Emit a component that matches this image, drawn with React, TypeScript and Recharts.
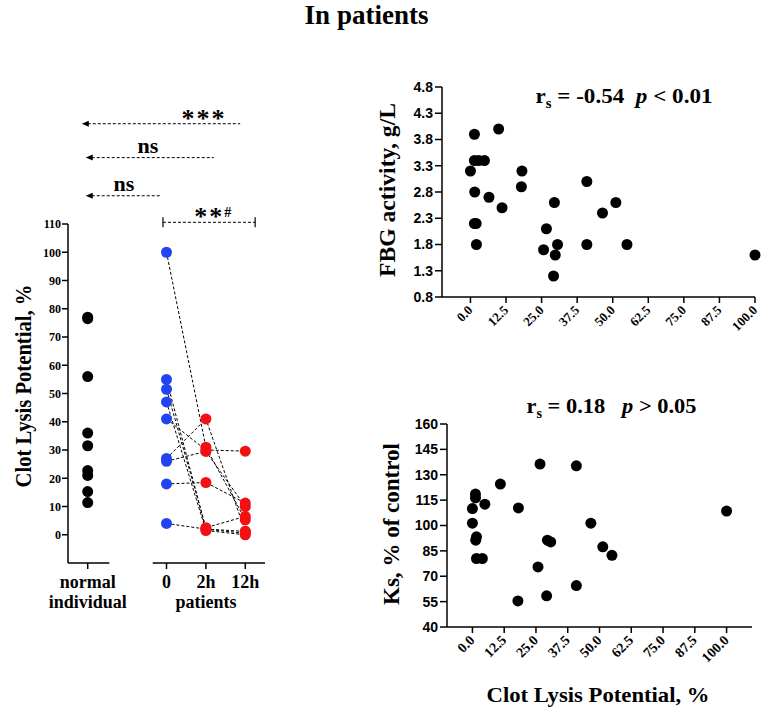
import React from "react";
import { ScatterChart, Scatter, XAxis, YAxis, ReferenceLine } from "recharts";

const SERIF = '"Liberation Serif", "Times New Roman", serif';
const SANS = '"Liberation Sans", Arial, sans-serif';

// left panel: clot lysis potential (%)
const normalValues = [77, 76.5, 56, 36, 31.5, 22.7, 21, 15.3, 11.4];
const patient0h = [100, 55, 51.5, 47, 41, 27, 26, 18, 4];
const patient2h = [31, 2, 2.5, 1.5, 30, 41, 29.5, 18.5, 2];
const patient12h = [5.3, 1.2, 6.5, 0, 29.6, 1.2, 10, 11.2, 0.5];
const groupPositions = [-2, 0, 1, 2];
const groupLabels = ["normal", "0", "2h", "12h"];
const groupSubLabels = ["individual", "", "patients", ""];
const clpTicks = [0, 10, 20, 30, 40, 50, 60, 70, 80, 90, 100, 110];

// significance marks: from / to in group units, y in %
const marks = [
  { text: "***", from: 1.87, to: -2.15, y: 145.5, at: 0.95, kind: "arrow" },
  { text: "ns", from: 1.2, to: -2.05, y: 133.5, at: -0.47, kind: "arrow" },
  { text: "ns", from: -0.14, to: -2.05, y: 120, at: -1.08, kind: "arrow" },
  { text: "**#", from: -0.09, to: 2.25, y: 110.6, at: 1.2, kind: "bracket" },
];

// top right: FBG activity vs clot lysis potential
const fbgClp = [0, 1.4, 1.4, 2.9, 4.9, 1.5, 1.4, 2.0, 2.1, 6.5, 9.9, 11.1, 18.1, 17.9, 26.7, 25.7, 29.5, 30.6, 29.8, 29.2, 40.9, 40.9, 46.4, 51.1, 55.0, 100];
const fbgValues = [3.2, 3.9, 3.4, 3.4, 3.4, 2.8, 2.2, 2.2, 1.8, 2.7, 4.0, 2.5, 3.2, 2.9, 2.1, 1.7, 2.6, 1.8, 1.6, 1.2, 3.0, 1.8, 2.4, 2.6, 1.8, 1.6];
const fbgTicks = [0.8, 1.3, 1.8, 2.3, 2.8, 3.3, 3.8, 4.3, 4.8];

// bottom right: Ks vs clot lysis potential
const ksClp = [0, 0, 1.2, 1.2, 4.9, 1.6, 1.3, 1.6, 3.9, 11.0, 18.1, 17.9, 26.6, 25.8, 29.5, 30.8, 29.2, 40.9, 40.9, 46.6, 51.3, 54.9, 100];
const ksValues = [110, 101.4, 118.6, 116.4, 112.6, 93.3, 91.3, 80.5, 80.5, 124.5, 110.4, 55.4, 136.3, 75.5, 91.3, 90.3, 58.4, 135.3, 64.5, 101.4, 87.4, 82.4, 108.5];
const ksTicks = [40, 55, 70, 85, 100, 115, 130, 145, 160];

const clpXTicks = [0, 12.5, 25, 37.5, 50, 62.5, 75, 87.5, 100];

const dot = (fill: string) => (p: any) => <circle cx={p.cx} cy={p.cy} r={5.5} fill={fill} />;
const noDot = () => <g />;

function GroupTick(props: any) {
  const { x, y, index } = props;
  return (
    <g>
      <text x={x} y={y + 17} textAnchor="middle" fontFamily={SERIF} fontWeight="bold" fontSize={18} fill="#000">
        {groupLabels[index]}
      </text>
      {groupSubLabels[index] ? (
        <text x={x} y={y + 37} textAnchor="middle" fontFamily={SERIF} fontWeight="bold" fontSize={18} fill="#000">
          {groupSubLabels[index]}
        </text>
      ) : null}
    </g>
  );
}

const slantTick = (size: number, ox: number, oy: number) => (props: any) => {
  const { x, y, payload } = props;
  const tx = x + ox;
  const ty = y + oy;
  return (
    <text x={tx} y={ty} transform={`rotate(-45 ${tx} ${ty})`} textAnchor="end" fontFamily={SERIF} fontWeight="bold" fontSize={size} fill="#000">
      {Number(payload.value).toFixed(1)}
    </text>
  );
};

function markShape(m: (typeof marks)[number]) {
  return (p: any) => {
    const { x1, y1, x2 } = p;
    const left = Math.min(x1, x2);
    const right = Math.max(x1, x2);
    const tx = x1 + ((m.at - m.from) / (m.to - m.from)) * (x2 - x1);
    const isStar = m.text.startsWith("*");
    return (
      <g>
        <line x1={left + (m.kind === "arrow" ? 6 : 0)} y1={y1} x2={right} y2={y1} stroke="#000" strokeWidth={1} strokeDasharray="3 2" />
        {m.kind === "arrow" ? (
          <polygon points={`${left},${y1} ${left + 7},${y1 - 3} ${left + 7},${y1 + 3}`} fill="#000" />
        ) : (
          <g>
            <line x1={left} y1={y1 - 5} x2={left} y2={y1 + 5} stroke="#000" strokeWidth={1.2} />
            <line x1={right} y1={y1 - 5} x2={right} y2={y1 + 5} stroke="#000" strokeWidth={1.2} />
          </g>
        )}
        <text x={tx} y={isStar ? y1 + 3 : y1 - 5} textAnchor="middle" fontFamily={SERIF} fontWeight="bold" fontSize={isStar ? 26 : 22} letterSpacing={isStar ? 2 : 0} fill="#000">
          {m.text.replace("#", "")}
          {m.text.includes("#") ? (
            <tspan fontSize={14} dy={-8}>#</tspan>
          ) : null}
        </text>
      </g>
    );
  };
}

function LeftPanel() {
  const normal = normalValues.map((y) => ({ x: -2, y }));
  const blue = patient0h.map((y) => ({ x: 0, y }));
  const red = [...patient2h.map((y) => ({ x: 1, y })), ...patient12h.map((y) => ({ x: 2, y }))];
  return (
    <ScatterChart width={300} height={620} margin={{ top: 224, right: 35, bottom: 0, left: 8 }}>
      <XAxis
        type="number"
        dataKey="x"
        domain={[-2.5, 2.5]}
        ticks={groupPositions}
        interval={0}
        height={57}
        axisLine={false}
        tickLine={{ stroke: "#000", strokeWidth: 1.5 }}
        tick={(p: any) => <GroupTick {...p} />}
      />
      <YAxis
        type="number"
        dataKey="y"
        domain={[-10, 110]}
        ticks={clpTicks}
        interval={0}
        width={60}
        axisLine={{ stroke: "#000", strokeWidth: 1.5 }}
        tickLine={{ stroke: "#000", strokeWidth: 1.5 }}
        tickSize={6}
        tickMargin={1}
        tick={{ fontFamily: SERIF, fontWeight: "bold", fontSize: 12, fill: "#000" }}
      />
      <ReferenceLine segment={[{ x: -2.5, y: -10 }, { x: -1.45, y: -10 }]} stroke="#000" strokeWidth={1.5} ifOverflow="visible" />
      <ReferenceLine segment={[{ x: -0.35, y: -10 }, { x: 2.5, y: -10 }]} stroke="#000" strokeWidth={1.5} ifOverflow="visible" />
      {marks.map((m, i) => (
        <ReferenceLine key={"m" + i} segment={[{ x: m.from, y: m.y }, { x: m.to, y: m.y }]} ifOverflow="visible" shape={markShape(m)} />
      ))}
      {patient0h.map((v, i) => (
        <Scatter
          key={"p" + i}
          data={[{ x: 0, y: v }, { x: 1, y: patient2h[i] }, { x: 2, y: patient12h[i] }]}
          line={{ stroke: "#000", strokeWidth: 1, strokeDasharray: "3 2" }}
          shape={noDot}
          isAnimationActive={false}
        />
      ))}
      <Scatter data={normal} shape={dot("#000")} isAnimationActive={false} />
      <Scatter data={blue} shape={dot("#2244f0")} isAnimationActive={false} />
      <Scatter data={red} shape={dot("#f21010")} isAnimationActive={false} />
    </ScatterChart>
  );
}

function CorrPanel(props: {
  xs: number[];
  ys: number[];
  yDomain: [number, number];
  yTicks: number[];
  xDomain: [number, number];
  height: number;
  top: number;
  right: number;
  yWidth: number;
  xHeight: number;
  yDigits: number;
  xTickSize: number;
}) {
  const data = props.xs.map((x, i) => ({ x, y: props.ys[i] }));
  return (
    <ScatterChart width={445} height={props.height} margin={{ top: props.top, right: props.right, bottom: 0, left: 10 }}>
      <XAxis
        type="number"
        dataKey="x"
        domain={props.xDomain}
        ticks={clpXTicks}
        interval={0}
        height={props.xHeight}
        axisLine={{ stroke: "#000", strokeWidth: 1.5 }}
        tickLine={{ stroke: "#000", strokeWidth: 1.5 }}
        tick={slantTick(props.xTickSize, 3, 6)}
      />
      <YAxis
        type="number"
        dataKey="y"
        domain={props.yDomain}
        ticks={props.yTicks}
        interval={0}
        width={props.yWidth}
        tickSize={7}
        axisLine={{ stroke: "#000", strokeWidth: 1.5 }}
        tickLine={{ stroke: "#000", strokeWidth: 1.5 }}
        tickFormatter={(v: number) => v.toFixed(props.yDigits)}
        tick={{ fontFamily: SANS, fontWeight: "bold", fontSize: 14, fill: "#000" }}
      />
      <Scatter data={data} shape={dot("#000")} isAnimationActive={false} />
    </ScatterChart>
  );
}

const txt = { fontFamily: SERIF, fontWeight: "bold" as const, fill: "#000" };
const NB = "\u00a0";

function Titles() {
  return (
    <svg width={765} height={710} style={{ position: "absolute", left: 0, top: 0, pointerEvents: "none" }}>
      <text x={366.5} y={24} textAnchor="middle" fontSize={27} {...txt}>In patients</text>
      <g transform="translate(624,103) scale(1.05,1)">
        <text x={0} y={0} textAnchor="middle" fontSize={22} {...txt}>
          r<tspan fontSize={14} dy={5}>s</tspan>
          <tspan dy={-5}>{`${NB}=${NB}-0.54${NB}${NB}`}</tspan>
          <tspan fontStyle="italic">p</tspan>
          {`${NB}<${NB}0.01`}
        </text>
      </g>
      <g transform="translate(611.5,413) scale(1.02,1)">
        <text x={0} y={0} textAnchor="middle" fontSize={22} {...txt}>
          r<tspan fontSize={14} dy={5}>s</tspan>
          <tspan dy={-5}>{`${NB}=${NB}0.18${NB}${NB}${NB}`}</tspan>
          <tspan fontStyle="italic">p</tspan>
          {`${NB}>${NB}0.05`}
        </text>
      </g>
      <text transform="translate(22.5,386) rotate(-90)" textAnchor="middle" dominantBaseline="central" fontSize={24} textLength={203} lengthAdjust="spacingAndGlyphs" {...txt}>
        Clot Lysis Potential, %
      </text>
      <text transform="translate(387,190) rotate(-90)" textAnchor="middle" dominantBaseline="central" fontSize={23} textLength={174} lengthAdjust="spacingAndGlyphs" {...txt}>
        FBG activity, g/L
      </text>
      <text transform="translate(391.7,524) rotate(-90)" textAnchor="middle" dominantBaseline="central" fontSize={23} textLength={162} lengthAdjust="spacingAndGlyphs" {...txt}>
        Ks, % of control
      </text>
      <text x={598} y={701.5} textAnchor="middle" fontSize={22} textLength={223} lengthAdjust="spacingAndGlyphs" {...txt}>
        Clot Lysis Potential, %
      </text>
    </svg>
  );
}

export default function App() {
  return (
    <div style={{ position: "absolute", left: 0, top: 0, width: 765, height: 710, background: "#fff" }}>
      <div style={{ position: "absolute", left: 0, top: 0 }}>
        <LeftPanel />
      </div>
      <div style={{ position: "absolute", left: 330, top: 60 }}>
        <CorrPanel
          xs={fbgClp}
          ys={fbgValues}
          yDomain={[0.8, 4.8]}
          yTicks={fbgTicks}
          xDomain={[-10, 100]}
          height={300}
          top={27}
          right={20}
          yWidth={102}
          xHeight={63}
          yDigits={1}
          xTickSize={13}
        />
      </div>
      <div style={{ position: "absolute", left: 330, top: 395 }}>
        <CorrPanel
          xs={ksClp}
          ys={ksValues}
          yDomain={[40, 160]}
          yTicks={ksTicks}
          xDomain={[-10, 110]}
          height={315}
          top={29}
          right={23}
          yWidth={107}
          xHeight={83}
          yDigits={0}
          xTickSize={14}
        />
      </div>
      <Titles />
    </div>
  );
}
